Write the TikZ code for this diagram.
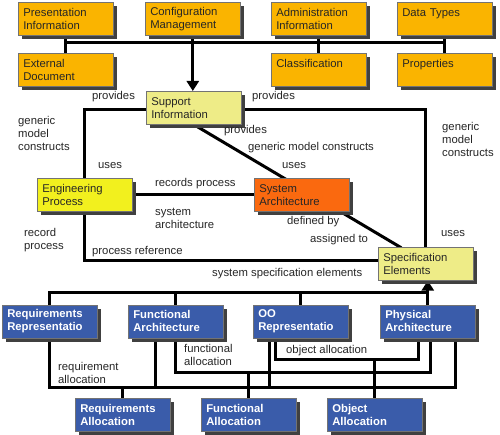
\documentclass[tikz,border=0pt]{standalone}
\usepackage{fontspec}
\setmainfont{Liberation Sans}
\usetikzlibrary{shadows,arrows.meta,calc}
\pgfdeclarelayer{bg}
\pgfsetlayers{bg,main}
\definecolor{ofill}{RGB}{250,180,0}
\definecolor{pyfill}{RGB}{238,236,135}
\definecolor{yfill}{RGB}{242,240,30}
\definecolor{rfill}{RGB}{250,105,15}
\definecolor{bfill}{RGB}{58,92,170}
\begin{document}
\begin{tikzpicture}[x=1pt,y=-1pt,
 txt/.style={font=\fontsize{11.3}{13}\selectfont},
 box/.style={txt, draw=black!55, line width=0.6pt, anchor=north west, inner xsep=5pt, inner ysep=0pt, align=left, minimum width=95pt, minimum height=33pt, text width=85pt, text=black!85, drop shadow={shadow xshift=4pt, shadow yshift=-4pt, opacity=1, fill=black!75}},
 obox/.style={box, fill=ofill},
 pbox/.style={box, fill=pyfill},
 ybox/.style={box, fill=yfill},
 rbox/.style={box, fill=rfill},
 bbox/.style={box, fill=bfill, text=white, font=\bfseries\fontsize{11.3}{13}\selectfont},
 lbl/.style={txt, anchor=west, inner sep=0pt, align=left, text=black!85},
 conn/.style={line width=3pt, line cap=rect},
 arr/.style={line width=3pt, -{Triangle[width=12pt,length=10pt]}},
]
\useasboundingbox (0,0) rectangle (500,435);
% boxes
\node[obox] (pi) at (18,2) {Presentation\\Information};
\node[obox] (cm) at (145,2) {Configuration\\Management};
\node[obox] (ai) at (271,2) {Administration\\Information};
\node[obox] (dt) at (397,2) {Data Types\\\mbox{}};
\node[obox] (ed) at (18,53) {External\\Document};
\node[obox] (cl) at (271,53) {Classification\\\mbox{}};
\node[obox] (pr) at (397,53) {Properties\\\mbox{}};
\node[pbox] (si) at (146,91) {Support\\Information};
\node[ybox] (ep) at (37,178) {Engineering\\Process};
\node[rbox] (sa) at (254,178) {System\\Architecture};
\node[pbox] (se) at (378,247) {Specification\\Elements};
\node[bbox] (rr) at (2,304.5) {Requirements\\Representatio};
\node[bbox] (fa) at (128,304.5) {Functional\\Architecture};
\node[bbox] (oo) at (253,304.5) {OO\\Representatio};
\node[bbox] (pa) at (380,304.5) {Physical\\Architecture};
\node[bbox] (ra) at (75,398) {Requirements\\Allocation};
\node[bbox] (fl) at (201,398) {Functional\\Allocation};
\node[bbox] (oa) at (327,398) {Object\\Allocation};
% labels
\node[lbl] (l1) at (92,97) {provides};
\node[lbl] (l2) at (252,97) {provides};
\node[lbl] (l3) at (18,133.5) {generic\\model\\constructs};
\node[lbl] (l4) at (442,139) {generic\\model\\constructs};
\node[lbl] (l5) at (224,131) {provides};
\node[lbl] (l6) at (248,148) {generic model constructs};
\node[lbl] (l7) at (98,166) {uses};
\node[lbl] (l8) at (282,166) {uses};
\node[lbl] (l9) at (155,184) {records process};
\node[lbl] (l10) at (155,218) {system\\architecture};
\node[lbl] (l11) at (24,240.5) {record\\process};
\node[lbl] (l12) at (92,252) {process reference};
\node[lbl] (l13) at (287,222) {defined by};
\node[lbl] (l14) at (310,240) {assigned to};
\node[lbl] (l15) at (441,234) {uses};
\node[lbl] (l16) at (212,274) {system specification elements};
\node[lbl] (l17) at (58,372.5) {requirement\\allocation};
\node[lbl] (l18) at (184,355) {functional\\allocation};
\node[lbl] (l19) at (286,351) {object allocation};
% connectors
\begin{pgfonlayer}{bg}
\fill[white] (0,0) rectangle (500,435);
\coordinate (topbar) at (0,43);
\draw[conn] (pi.south |- topbar) -- (dt.south |- topbar);
\draw[conn] (pi.south) -- (ed.north);
\draw[conn] (ai.south) -- (cl.north);
\draw[conn] (dt.south) -- (pr.north);
\draw[arr] (cm.south) -- (cm.south |- si.north);
\draw[conn] ([yshift=-1.5pt]si.west) -| (ep.north);
\draw[conn] ([yshift=-1.5pt]si.east) -| (se.north);
\draw[conn] (ep.south) |- ([yshift=3.5pt]se.west);
\draw[conn] (ep.east) -- (sa.west);
\draw[conn] (si.south) -- ($(se.north west)+(22,0)$);
% bottom
\coordinate (botbar) at (0,293);
\coordinate (rabar) at (0,387);
\coordinate (flbar) at (0,372);
\coordinate (oabar) at (0,359);
\coordinate (fa1) at ($(fa.south west)+(27,0)$);
\coordinate (oo1) at ($(oo.south west)+(16,0)$);
\coordinate (oo2) at ($(oo.south west)+(22,0)$);
\coordinate (pa1) at ($(pa.south west)+(38,0)$);
\coordinate (pa2) at ($(pa.south west)+(50,0)$);
\coordinate (pa3) at ($(pa.south west)+(75,0)$);
\draw[conn] (rr.north) |- (pa.north |- botbar);
\draw[conn] (fa.north) -- (fa.north |- botbar);
\draw[conn] (oo.north) -- (oo.north |- botbar);
\draw[arr] (pa.north) -- (pa.north |- se.south);
\draw[conn] (rr.south) |- (pa3 |- rabar) -- (pa3);
\draw[conn] (fa1) -- (fa1 |- rabar);
\draw[conn] (oo1) -- (oo1 |- rabar);
\draw[conn] (ra.north) -- (ra.north |- rabar);
\draw[conn] (fa.south) |- (pa2 |- flbar) -- (pa2);
\draw[conn] (fl.north) -- (fl.north |- flbar);
\draw[conn] (oo2) |- (pa1 |- oabar) -- (pa1);
\draw[conn] (oa.north) -- (oa.north |- oabar);
\end{pgfonlayer}
\end{tikzpicture}
\end{document}
